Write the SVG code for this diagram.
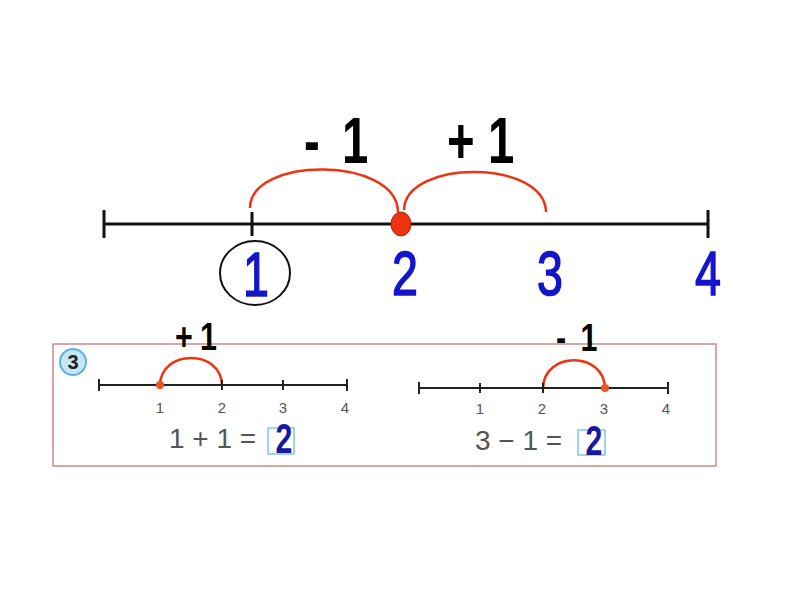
<svg xmlns="http://www.w3.org/2000/svg" width="800" height="600" viewBox="0 0 800 600">
<style>
.axis{stroke:#111;stroke-width:3;fill:none}
.axs{stroke:#222;stroke-width:2;fill:none}
.arc{stroke:#ee3311;stroke-width:2.5;fill:none}
.big{font-family:"Liberation Sans",Arial,sans-serif;font-size:64px;font-weight:bold;fill:#000}
.mid{font-family:"Liberation Sans",Arial,sans-serif;font-size:38px;font-weight:bold;fill:#000}
.blue{font-family:"Liberation Sans",Arial,sans-serif;font-size:63px;fill:#1414cc;stroke:#1414cc;stroke-width:1.6;text-anchor:middle}
.tick{font-family:"Liberation Sans",Arial,sans-serif;font-size:15px;fill:#555;text-anchor:middle}
.eq{font-family:"Liberation Sans",Arial,sans-serif;font-size:28px;fill:#555}
.ans{font-family:"Liberation Sans",Arial,sans-serif;font-size:42px;font-weight:bold;fill:#1818a0;text-anchor:middle}
</style>
<rect width="800" height="600" fill="#fff"/>
<g id="main-line">
<line class="axis" x1="104" y1="224" x2="708" y2="224"/>
<line class="axis" x1="104" y1="210" x2="104" y2="238"/>
<line class="axis" x1="708" y1="210" x2="708" y2="238"/>
<line class="axis" x1="252" y1="212" x2="252" y2="236"/>
</g>
<g id="connectors">
<path class="arc" d="M250,208 C250,156 397,156 398,212"/>
<path class="arc" d="M404,210 C405,159 545,159 546,212"/>
<path class="arc" d="M160,385 C161,349 221,349 222,385"/>
<path class="arc" d="M543,388 C544,351 604,351 605,388"/>
</g>
<g id="point-2">
<ellipse cx="401" cy="224" rx="10" ry="12" fill="#ee3311" stroke="#aa2200" stroke-width="1"/>
</g>
<g id="labels-top">
<text class="big" transform="translate(304,163) scale(0.74,1)">-<tspan dx="30">1</tspan></text>
<text class="big" transform="translate(447,163) scale(0.74,1)">+<tspan dx="18">1</tspan></text>
</g>
<g id="numbers">
<ellipse cx="255" cy="273" rx="35" ry="32" fill="none" stroke="#111" stroke-width="2"/>
<text class="blue" transform="translate(256,296) scale(0.74,1)">1</text>
<text class="blue" transform="translate(405,295) scale(0.74,1)">2</text>
<text class="blue" transform="translate(550,295) scale(0.74,1)">3</text>
<text class="blue" transform="translate(708,295) scale(0.74,1)">4</text>
</g>
<g id="exercise">
<rect x="53" y="344" width="663" height="122" fill="none" stroke="#d08888" stroke-width="1.5"/>
<circle cx="73" cy="362" r="13" fill="#c4e6f6" stroke="#5ab4e0" stroke-width="2"/>
<text x="73" y="369" font-family="'Liberation Sans',Arial,sans-serif" font-size="20" font-weight="bold" fill="#222" text-anchor="middle">3</text>
</g>
<g id="left-line">
<line class="axs" x1="99" y1="385" x2="347" y2="385"/>
<line class="axs" x1="99" y1="379" x2="99" y2="391"/>
<line class="axs" x1="347" y1="379" x2="347" y2="391"/>
<line class="axs" x1="222" y1="380" x2="222" y2="390"/>
<line class="axs" x1="283" y1="380" x2="283" y2="390"/>
<circle cx="160" cy="385" r="4" fill="#ee5522"/>
<text class="tick" x="160" y="413">1</text>
<text class="tick" x="222" y="413">2</text>
<text class="tick" x="283" y="413">3</text>
<text class="tick" x="345" y="413">4</text>
<text class="eq" x="169" y="448">1 + 1 =</text>
<rect x="268" y="428" width="26" height="26" fill="none" stroke="#7ec8ec" stroke-width="1.5"/>
<text class="ans" transform="translate(284,453) scale(0.72,1)">2</text>
<text class="mid" transform="translate(175,350) scale(0.8,1)">+<tspan dx="9">1</tspan></text>
</g>
<g id="right-line">
<line class="axs" x1="419" y1="388" x2="668" y2="388"/>
<line class="axs" x1="419" y1="382" x2="419" y2="394"/>
<line class="axs" x1="668" y1="382" x2="668" y2="394"/>
<line class="axs" x1="480" y1="383" x2="480" y2="393"/>
<line class="axs" x1="543" y1="383" x2="543" y2="393"/>
<circle cx="605" cy="388" r="4" fill="#ee5522"/>
<text class="tick" x="480" y="414">1</text>
<text class="tick" x="542" y="414">2</text>
<text class="tick" x="604" y="414">3</text>
<text class="tick" x="666" y="414">4</text>
<text class="eq" x="475" y="450">3 − 1 =</text>
<rect x="578" y="430" width="27" height="25" fill="none" stroke="#7ec8ec" stroke-width="1.5"/>
<text class="ans" transform="translate(594,455) scale(0.72,1)">2</text>
<text class="mid" transform="translate(556,351) scale(0.8,1)">-<tspan dx="18">1</tspan></text>
</g>
</svg>
